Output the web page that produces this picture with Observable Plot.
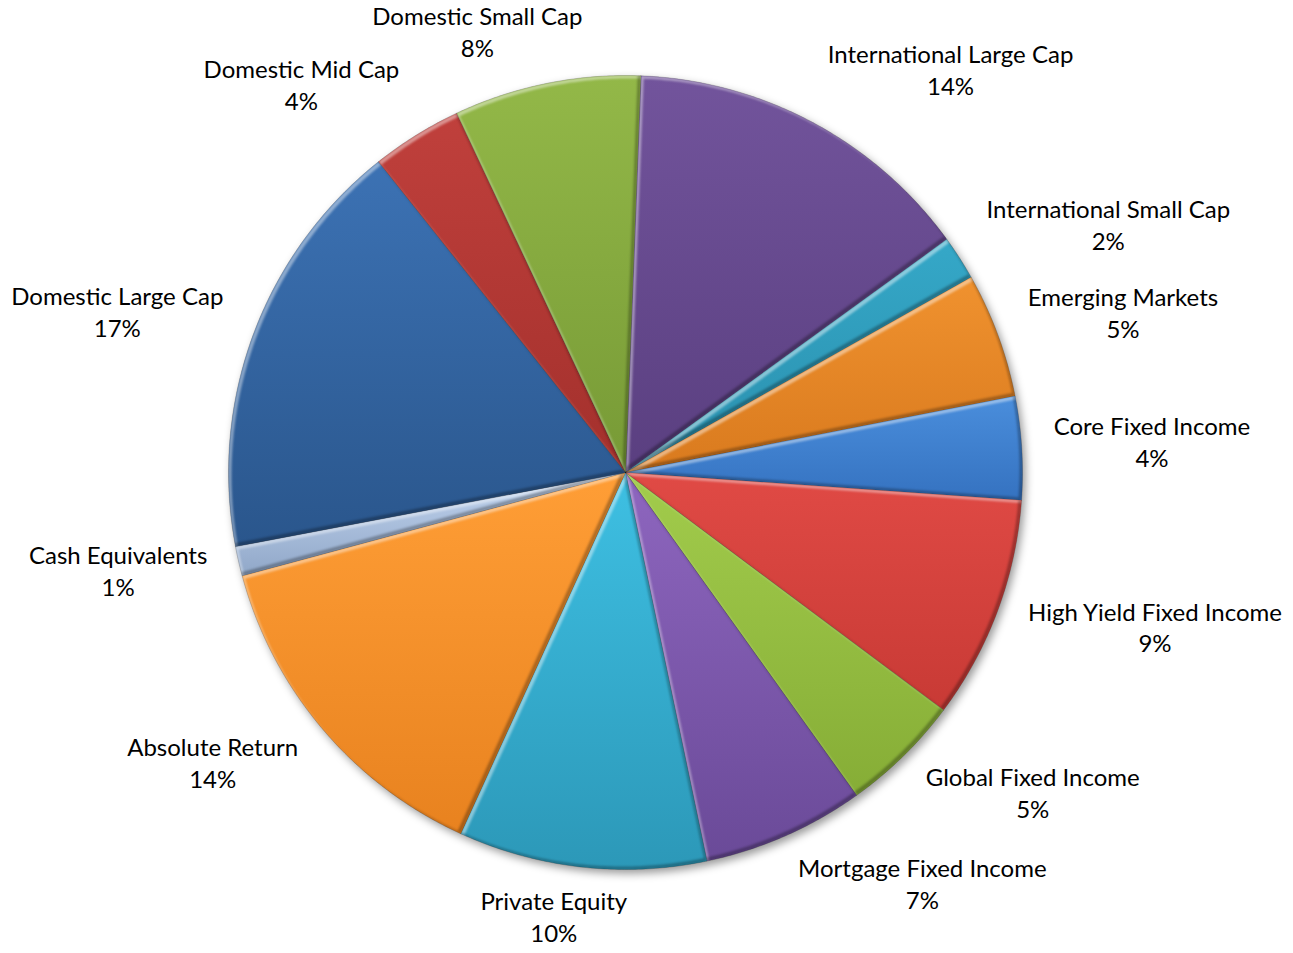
<!DOCTYPE html>
<html><head><meta charset="utf-8">
<script src="https://cdn.jsdelivr.net/npm/d3@7"></script>
<script src="https://cdn.jsdelivr.net/npm/@observablehq/plot@0.6"></script>
<style>body{margin:0;background:#fff} #chart svg{display:block}</style>
</head><body><div id="chart"></div>
<script>
// ---- data ----
const categories = [
  "International Large Cap", "International Small Cap", "Emerging Markets",
  "Core Fixed Income", "High Yield Fixed Income", "Global Fixed Income",
  "Mortgage Fixed Income", "Private Equity", "Absolute Return",
  "Cash Equivalents", "Domestic Large Cap", "Domestic Mid Cap", "Domestic Small Cap"
];
const values = [14.4, 1.8, 5.1, 4.2, 9.1, 4.9, 6.6, 10.1, 14.0, 1.2, 17.3, 3.7, 7.6];

// ---- style ----
const colorTop = ["#72549C","#35A8C8","#F0922F","#4A8EDC","#E04A45","#A2CC4C","#8E66BF","#3EC0E3","#FF9E36","#C3D6F0","#3C72B4","#C0403C","#93B848"];
const colorBottom = ["#5A3F80","#2A8FAD","#D97A1E","#3572C0","#C83A35","#86AD36","#6A4A98","#2C98B8","#E8821F","#90A7C8","#2A568C","#A3302C","#779A36"];

const W = 1293, H = 953, CX = 625, CY = 472, R = 397;
const START_DEG = 2.2;
const FS = 24, LH = 32, FONT = "Lato";
const GAP = 32;

const total = d3.sum(values);
const a0 = START_DEG * Math.PI / 180;
const arcs = d3.pie().sort(null).startAngle(a0).endAngle(a0 + 2 * Math.PI)(values);

function arcPoints(s, e, withCenter) {
  const pts = withCenter ? [{x: 0, y: 0}] : [];
  const n = Math.max(2, Math.ceil((e - s) / (Math.PI / 360)));
  for (let k = 0; k <= n; k++) {
    const t = s + (e - s) * k / n;
    pts.push({x: Math.sin(t), y: Math.cos(t)});
  }
  return pts;
}
const slices = arcs.map(a => arcPoints(a.startAngle, a.endAngle, true));
const disk = arcPoints(0, 2 * Math.PI, false);

// labels
const ctx = document.createElement("canvas").getContext("2d");
ctx.font = `${FS}px ${FONT}`;
const labels = arcs.map((a, i) => {
  const pct = Math.round(a.value / total * 100) + "%";
  const w = Math.max(ctx.measureText(categories[i]).width, ctx.measureText(pct).width);
  const h = 2 * LH;
  const m = (a.startAngle + a.endAngle) / 2;
  const s = Math.sin(m), c = Math.cos(m);
  const ax = CX + (R + GAP) * s, ay = CY - (R + GAP) * c;
  let px = ax + Math.max(-1, Math.min(1, s * 3)) * w / 2;
  let py = ay - 0.75 * c * h / 2;
  py = Math.max(h / 2 + 2, Math.min(H - h / 2 - 2, py));
  px = Math.max(w / 2 + 2, Math.min(W - w / 2 - 2, px));
  return {text: categories[i] + "\n" + pct, x: (px - CX) / R, y: (CY - py) / R};
});

const marks = [
  Plot.line(disk, {x: "x", y: "y", curve: "linear-closed", fill: "#000", fillOpacity: 0.4, stroke: "none", dx: 3, dy: 4}),
  ...slices.map((pts, i) => Plot.line(pts, {x: "x", y: "y", curve: "linear-closed", fill: `url(#grad${i})`, stroke: "#000", strokeOpacity: 0.25, strokeWidth: 0.8})),
  Plot.text(labels, {x: "x", y: "y", text: "text", textAnchor: "middle", lineAnchor: "middle", lineHeight: LH / FS, fontSize: FS, fontFamily: FONT, fill: "#000", dy: -4})
];

const svg = Plot.plot({
  width: W, height: H, margin: 0,
  x: {domain: [-CX / R, (W - CX) / R], axis: null},
  y: {domain: [-(H - CY) / R, CY / R], axis: null},
  marks
});

const defs = d3.select(svg).insert("defs", ":first-child");
colorTop.forEach((c, i) => {
  const g = defs.append("linearGradient").attr("id", `grad${i}`).attr("x1", 0).attr("y1", 0).attr("x2", 0).attr("y2", 1);
  g.append("stop").attr("offset", "0%").attr("stop-color", c);
  g.append("stop").attr("offset", "100%").attr("stop-color", colorBottom[i]);
});
defs.append("filter").attr("id", "blur").attr("x", "-10%").attr("y", "-10%").attr("width", "120%").attr("height", "120%")
  .append("feGaussianBlur").attr("stdDeviation", 4);
defs.node().insertAdjacentHTML("beforeend", `
<filter id="bevel" x="-5%" y="-5%" width="110%" height="110%" color-interpolation-filters="sRGB">
  <feOffset in="SourceAlpha" dx="3" dy="3" result="offA"/>
  <feComposite in="SourceAlpha" in2="offA" operator="out" result="tl"/>
  <feGaussianBlur in="tl" stdDeviation="1.2" result="tlb"/>
  <feFlood flood-color="#fff" flood-opacity="0.45" result="white"/>
  <feComposite in="white" in2="tlb" operator="in" result="hl"/>
  <feComposite in="hl" in2="SourceAlpha" operator="in" result="hl2"/>
  <feOffset in="SourceAlpha" dx="-3" dy="-3" result="offB"/>
  <feComposite in="SourceAlpha" in2="offB" operator="out" result="br"/>
  <feGaussianBlur in="br" stdDeviation="1.2" result="brb"/>
  <feFlood flood-color="#000" flood-opacity="0.3" result="black"/>
  <feComposite in="black" in2="brb" operator="in" result="sh"/>
  <feComposite in="sh" in2="SourceAlpha" operator="in" result="sh2"/>
  <feMerge><feMergeNode in="SourceGraphic"/><feMergeNode in="hl2"/><feMergeNode in="sh2"/></feMerge>
</filter>`);

const lineGroups = svg.querySelectorAll('g[aria-label="line"]');
lineGroups.forEach((g, k) => {
  if (k === 0) g.setAttribute("filter", "url(#blur)");
  else g.querySelectorAll("path").forEach(p => p.setAttribute("filter", "url(#bevel)"));
});

document.getElementById("chart").appendChild(svg);
</script>
</body></html>
